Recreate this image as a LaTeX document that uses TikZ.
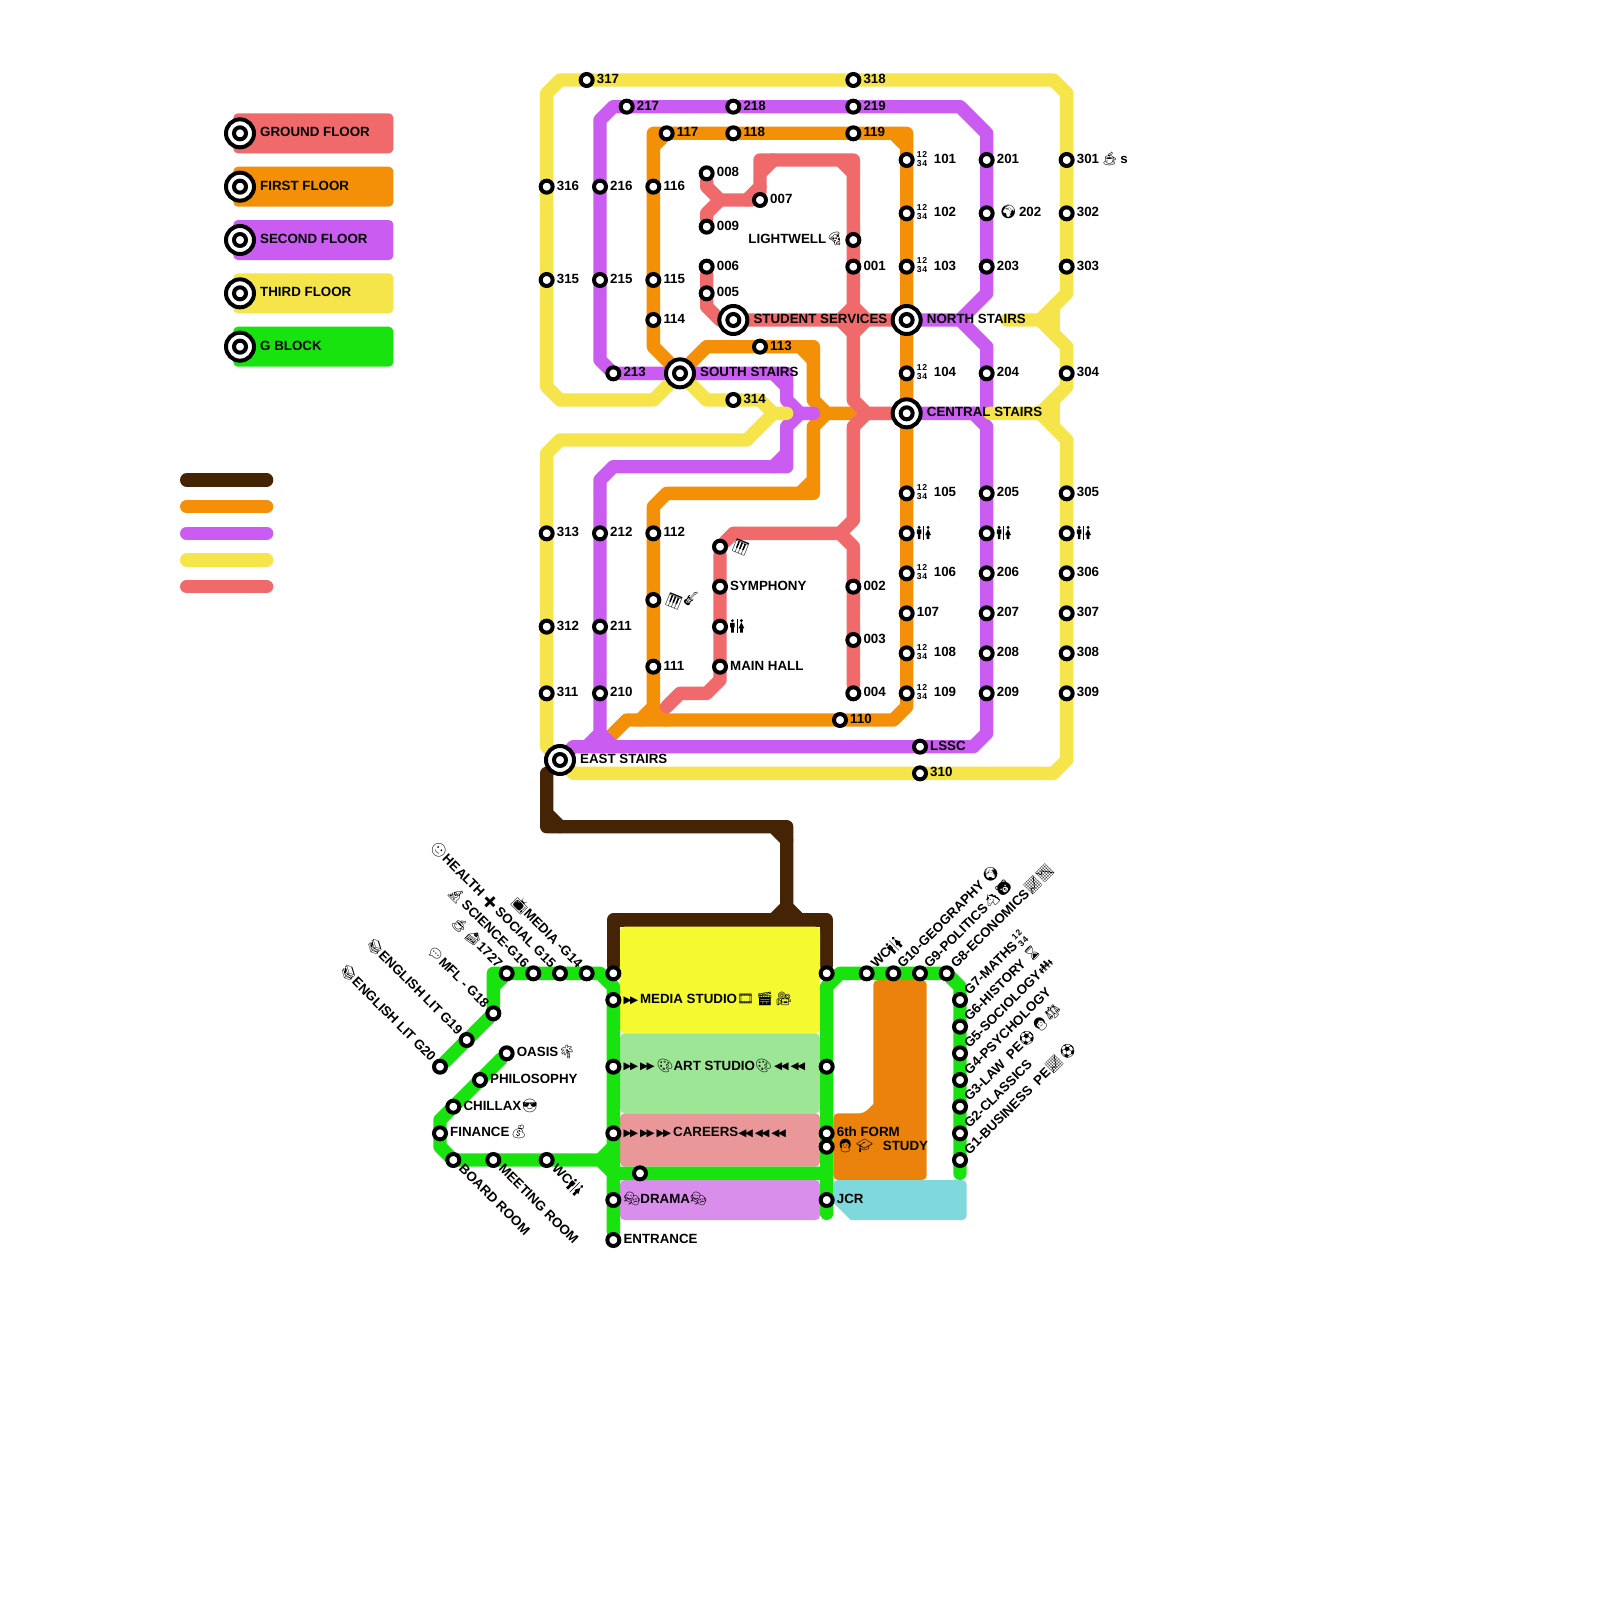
\documentclass[tikz,border=0pt]{standalone}
\usepackage{fontspec}
\usepackage{graphicx}
\setmainfont{Liberation Sans}
\newfontfamily\emojifont{Noto Emoji}
\newfontfamily\dejavu{DejaVu Sans}
\newcommand{\emo}[1]{{\emojifont #1}}
\newcommand{\wcsign}{\tikz[x=1.12pt,y=1.05pt,baseline=.8pt,line width=.5pt]{%
  \fill[black] (3,9.8) circle [radius=1.6pt] (1,3.5) rectangle (5,7.8) (1.8,-1.5) rectangle (4.2,4);
  \draw[black] (7,-2.2) -- (7,11.2);
  \fill[black] (11,9.8) circle [radius=1.6pt] (11,8.2) -- (13.6,2.5) -- (8.4,2.5) -- cycle (9.8,-1.5) rectangle (12.2,3);}}
\newcommand{\numsign}{\makebox[17pt][l]{\raisebox{-2.6pt}{\fontsize{8.6}{6.8}\selectfont\shortstack[l]{1\kern.8pt2\\3\kern.8pt4}}}}
\newcommand{\ffwd}{\raisebox{.4pt}{\dejavu\fontsize{10.5}{8}\selectfont ▶\kern-1.6pt▶}\kern2pt}
\newcommand{\rwd}{\raisebox{.4pt}{\dejavu\fontsize{10.5}{8}\selectfont ◀\kern-1.6pt◀}\kern2pt}
\newcommand{\pianokeys}{\raisebox{1.5pt}{\rotatebox{-22}{\emo{🎹}}}}
\usetikzlibrary{backgrounds}
\definecolor{groundred}{HTML}{F16A6B}
\definecolor{firstorange}{HTML}{F49008}
\definecolor{secondpurple}{HTML}{CA5CF1}
\definecolor{thirdyellow}{HTML}{F5E54A}
\definecolor{gblockgreen}{HTML}{19E30F}
\definecolor{linkbrown}{HTML}{452305}
\definecolor{mediablock}{HTML}{F5F92F}
\definecolor{artblock}{HTML}{9DE696}
\definecolor{careersblock}{HTML}{EA9799}
\definecolor{dramablock}{HTML}{DA8EEB}
\definecolor{formblock}{HTML}{EB820C}
\definecolor{jcrblock}{HTML}{7ED8DC}
\tikzset{
  metro/.style={line width=13.33pt,line cap=round,line join=round},
  stn/.style={circle,draw=black,fill=white,line width=4pt,minimum size=12pt,inner sep=0pt},
  stairs/.style={circle,draw=black,fill=white,line width=4pt,minimum size=28pt,inner sep=0pt},
  lab/.style={anchor=base west,inner sep=0pt,text=black},
  block/.style={rounded corners=4.5pt,minimum width=200pt,inner sep=0pt}
}
\begin{document}
\begin{tikzpicture}[x=13.333pt,y=-13.333pt,font=\fontsize{13.33}{16}\selectfont\bfseries]
  \useasboundingbox (0,0) rectangle (120,120);
  % interchange stairs
  \foreach \nm/\x/\y/\txt in {north/68/24/NORTH STAIRS,central/68/31/CENTRAL STAIRS,south/51/28/SOUTH STAIRS,
      student/55/24/STUDENT SERVICES,east/42/57/EAST STAIRS} {
    \node[stairs] (\nm) at (\x,\y) {};
    \node[stn] (\nm in) at (\x,\y) {};
    \node[lab] (\nm lab) at ([shift={(20pt,-3.5pt)}]\nm) {\txt};
  }
  % stations, label to the right
  \foreach \nm/\x/\y/\txt in {317/44/6/317,318/64/6/318,217/47/8/217,218/55/8/218,219/64/8/219,117/50/10/117,118/55/10/118,119/64/10/119,
      316/41/14/316,315/41/21/315,216/45/14/216,215/45/21/215,116/49/14/116,115/49/21/115,114/49/24/114,
      008/53/13/008,009/53/17/009,007/57/15/007,006/53/20/006,005/53/22/005,001/64/20/001,
      101/68/12/\numsign101,102/68/16/\numsign102,103/68/20/\numsign103,104/68/28/\numsign104,105/68/37/\numsign105,
      1wc/68/40/\wcsign,106/68/43/\numsign106,107/68/46/107,108/68/49/\numsign108,109/68/52/\numsign109,
      201/74/12/201,202/74/16/\kern3pt\emo{🌍}\,202,203/74/20/203,204/74/28/204,205/74/37/205,2wc/74/40/\wcsign,206/74/43/206,207/74/46/207,208/74/49/208,209/74/52/209,
      301/80/12/301\,\emo{☕}\,s,302/80/16/302,303/80/20/303,304/80/28/304,305/80/37/305,3wc/80/40/\wcsign,306/80/43/306,307/80/46/307,308/80/49/308,309/80/52/309,
      113/57/26/113,213/46/28/213,314/55/30/314,
      313/41/40/313,312/41/47/312,311/41/52/311,212/45/40/212,211/45/47/211,210/45/52/210,112/49/40/112,music/49/45/\pianokeys\kern-2pt\emo{🎸},111/49/50/111,
      keys/54/41/\pianokeys,symphony/54/44/SYMPHONY,0wc/54/47/\wcsign,mainhall/54/50/MAIN HALL,
      002/64/44/002,003/64/48/003,004/64/52/004,110/63/54/110,lssc/69/56/LSSC,310/69/58/310,
      media/46/75/\ffwd MEDIA STUDIO\emo{🎞}\,\emo{🎬}\,\emo{🎥},art/46/80/\ffwd\ffwd\emo{🎨}ART STUDIO\emo{🎨}\,\rwd\rwd,
      careers/46/85/\ffwd\ffwd\ffwd CAREERS\rwd\rwd\rwd,drama/46/90/\emo{🎭}DRAMA\emo{🎭},entrance/46/93/ENTRANCE,
      oasis/38/79/OASIS\emo{🌴},philosophy/36/81/PHILOSOPHY,chillax/34/83/CHILLAX\emo{😎},finance/33/85/FINANCE\kern1pt\emo{💰},
      form/62/85/6th FORM,study/62/86/\emo{👩}\,\emo{🎓}\hspace{10pt}STUDY,jcr/62/90/JCR} {
    \node[stn] (n\nm) at (\x,\y) {};
    \node[lab] (l\nm) at ([shift={(10pt,-3.5pt)}]n\nm) {\txt};
  }
  % stations with no label
  \foreach \nm/\x/\y in {mediatop/46/73,righttop/62/73,rightart/62/80,corridor/48/88}
    \node[stn] (n\nm) at (\x,\y) {};
  \node[stn] (lightwell) at (64,18) {};
  \node[lab,anchor=base east] (llightwell) at ([shift={(-10pt,-3.5pt)}]lightwell) {LIGHTWELL\emo{🍕}};
  % g block, slanted labels
  \foreach \nm/\x/\y/\txt in {wcright/65/73/WC\wcsign,g10/67/73/G10-GEOGRAPHY \emo{🌍},g9/69/73/G9-POLITICS\emo{🐴}\emo{🐻},g8/71/73/G8-ECONOMICS\emo{📈📉},
      g7/72/75/G7-MATHS\,\numsign,g6/72/77/G6-HISTORY \emo{⌛},g5/72/79/G5-SOCIOLOGY\emo{👪},g4/72/81/G4-PSYCHOLOGY,
      g3/72/83/G3-LAW\ \ PE\emo{⚽}\,\emo{👩}\emo{⚖},g2/72/85/G2-CLASSICS,g1/72/87/G1-BUSINESS\ \ PE\emo{📈}\,\emo{⚽}} {
    \node[stn] (n\nm) at (\x,\y) {};
    \node[lab,rotate=45] (l\nm) at ([shift={(9.5pt,4.6pt)}]n\nm) {\txt};
  }
  \foreach \nm/\x/\y/\txt in {board/34/87/BOARD ROOM,meeting/37/87/MEETING ROOM,wcleft/41/87/WC\wcsign} {
    \node[stn] (n\nm) at (\x,\y) {};
    \node[lab,rotate=-45] (l\nm) at ([shift={(4.6pt,-9.5pt)}]n\nm) {\txt};
  }
  \foreach \nm/\x/\y/\txt in {g20/33/80/\emo{📚}ENGLISH LIT G20,g19/35/78/\emo{📚}ENGLISH LIT G19,g18/37/76/\emo{💬}MFL - G18,
      g17/38/73/\emo{☕}\,\emo{🍰}1727,g16/40/73/\emo{🔬}\,SCIENCE-G16,g15/42/73/\emo{🙂}HEALTH\,\emo{➕}\,SOCIAL G15,g14/44/73/\emo{📺}MEDIA -G14} {
    \node[stn] (n\nm) at (\x,\y) {};
    \node[lab,rotate=-45,anchor=base east] (l\nm) at ([shift={(-9.5pt,4.6pt)}]n\nm) {\txt};
  }
  % key
  \foreach \nm/\y/\col/\txt in {ground/10/groundred/GROUND FLOOR,first/14/firstorange/FIRST FLOOR,second/18/secondpurple/SECOND FLOOR,
      third/22/thirdyellow/THIRD FLOOR,gblock/26/gblockgreen/G BLOCK} {
    \node[block,fill=\col,minimum width=160pt,minimum height=40pt] (key\nm) at (23.5,\y) {};
    \node[stairs] (keystairs\nm) at (18,\y) {};
    \node[stn] (keyin\nm) at (18,\y) {};
    \node[lab] (keylab\nm) at ([shift={(20pt,-3.5pt)}]keystairs\nm) {\txt};
  }
  \foreach \y/\col in {36/linkbrown,38/firstorange,40/secondpurple,42/thirdyellow,44/groundred} {
    \coordinate (a\y) at (14,\y);
    \coordinate (b\y) at (20,\y);
    \draw[metro,\col] (a\y) -- (b\y);
  }
  \begin{scope}[on background layer]
    % first floor
    \draw[metro,firstorange] (south) -- (49,26) -- (49,10) -- (50,10) -- (49,11);
    \draw[metro,firstorange] (50,10) -- (68,10) -- (68,11) -- (67,10);
    \draw[metro,firstorange] (68,11) -- (68,53) -- (67,54) -- (47,54) -- (45,56);
    \draw[metro,firstorange] (south) -- (53,26) -- (61,26) -- (61,27) -- (60,26);
    \draw[metro,firstorange] (61,27) -- (61,30) -- (62,31) -- (64,31);
    \draw[metro,firstorange] (62,31) -- (61,32) -- (61,37) -- (60,37) -- (61,36);
    \draw[metro,firstorange] (60,37) -- (50,37) -- (49,38) -- (49,53) -- (48,54);
    \draw[metro,firstorange] (49,53) -- (50,54);
    % ground floor
    \draw[metro,groundred] (n006) -- (53,23) -- (54,24) -- (north);
    \draw[metro,groundred] (n008) -- (53,14) -- (54,15) -- (n007);
    \draw[metro,groundred] (n009) -- (53,16) -- (54,15);
    \draw[metro,groundred] (56,15) -- (57,14) -- (n007);
    \draw[metro,groundred] (57,14) -- (57,12) -- (58,12) -- (57,13);
    \draw[metro,groundred] (58,12) -- (64,12) -- (64,13) -- (63,12);
    \draw[metro,groundred] (64,13) -- (64,23) -- (63,24) -- (64,25) -- (64,30) -- (65,31) -- (central);
    \draw[metro,groundred] (64,23) -- (65,24) -- (64,25);
    \draw[metro,groundred] (65,31) -- (64,32) -- (64,39) -- (63,40) -- (64,41) -- (n004);
    \draw[metro,groundred] (63,40) -- (55,40) -- (nkeys);
    \draw[metro,groundred] (nkeys) -- (54,51) -- (53,52) -- (51,52) -- (50,53);
    % second floor
    \draw[metro,secondpurple] (south) -- (46,28) -- (45,27) -- (45,9) -- (46,8) -- (72,8) -- (74,10) -- (74,22) -- (72,24) -- (north);
    \draw[metro,secondpurple] (72,24) -- (74,26) -- (74,31) -- (central);
    \draw[metro,secondpurple] (73,31) -- (74,32) -- (74,55) -- (73,56) -- (43,56) -- (east);
    \draw[metro,secondpurple] (south) -- (59,28) -- (59,30) -- (60,31) -- (61,31);
    \draw[metro,secondpurple] (58,28) -- (59,29);
    \draw[metro,secondpurple] (60,31) -- (59,32) -- (59,35) -- (58,35) -- (59,34);
    \draw[metro,secondpurple] (58,35) -- (46,35) -- (45,36) -- (45,55) -- (44,56);
    \draw[metro,secondpurple] (45,55) -- (46,56);
    % third floor
    \draw[metro,thirdyellow] (south) -- (49,30) -- (42,30) -- (41,29) -- (41,7) -- (42,6) -- (79,6) -- (80,7) -- (80,22) -- (78,24) -- (75.5,24);
    \draw[metro,thirdyellow] (78,24) -- (80,26) -- (80,29) -- (78,31) -- (74.25,31);
    \draw[metro,thirdyellow] (78,31) -- (80,33) -- (80,57) -- (79,58) -- (43,58) -- (east);
    \draw[metro,thirdyellow] (79,23.3) -- (79,24.7);
    \draw[metro,thirdyellow] (79,30.3) -- (79,31.7);
    \draw[metro,thirdyellow] (south) -- (53,30) -- (57,30) -- (58,31) -- (59,31);
    \draw[metro,thirdyellow] (58,31) -- (56,33) -- (42,33) -- (41,34) -- (41,56) -- (east);
    % link to g block
    \draw[metro,linkbrown] (41,58) -- (41,62) -- (42,62) -- (41,61);
    \draw[metro,linkbrown] (42,62) -- (59,62) -- (59,63) -- (58,62);
    \draw[metro,linkbrown] (59,63) -- (59,68) -- (58,69);
    \draw[metro,linkbrown] (59,68) -- (60,69);
    \draw[metro,linkbrown] (nmediatop) -- (46,69) -- (62,69) -- (nrighttop);
    % rooms
    \node[block,fill=mediablock,minimum height=106.67pt] (mediaroom) at (54,73.5) {};
    \node[block,fill=artblock,minimum height=80pt] (artroom) at (54,80.5) {};
    \node[block,fill=careersblock,minimum height=53.33pt] (careersroom) at (54,85.5) {};
    \node[block,fill=dramablock,minimum height=40pt] (dramaroom) at (54,90) {};
    \fill[formblock,rounded corners=4.5pt] (65.5,73.5) -- (69.5,73.5) -- (69.5,88.5) -- (62.5,88.5) -- (62.5,83.5) -- (64.8,83.5) [sharp corners] -- (65.5,82.8) [rounded corners=4.5pt] -- cycle;
    \fill[jcrblock,rounded corners=4.5pt] (62.5,88.5) -- (72.5,88.5) -- (72.5,91.5) [sharp corners] -- (63.8,91.5) -- (62.5,90.2) [rounded corners=4.5pt] -- cycle;
    % g block
    \draw[metro,gblockgreen] (ng20) -- (37,76) -- (37,73) -- (38,73) -- (37,74);
    \draw[metro,gblockgreen] (38,73) -- (45,73) -- (46,74) -- (nentrance);
    \draw[metro,gblockgreen] (noasis) -- (33,84) -- (33,86) -- (34,87) -- (45,87) -- (46,86);
    \draw[metro,gblockgreen] (45,87) -- (46,88) -- (62,88);
    \draw[metro,gblockgreen] (62,91) -- (62,74) -- (63,73) -- (71,73) -- (72,74) -- (72,88);
  \end{scope}
\end{tikzpicture}
\end{document}
